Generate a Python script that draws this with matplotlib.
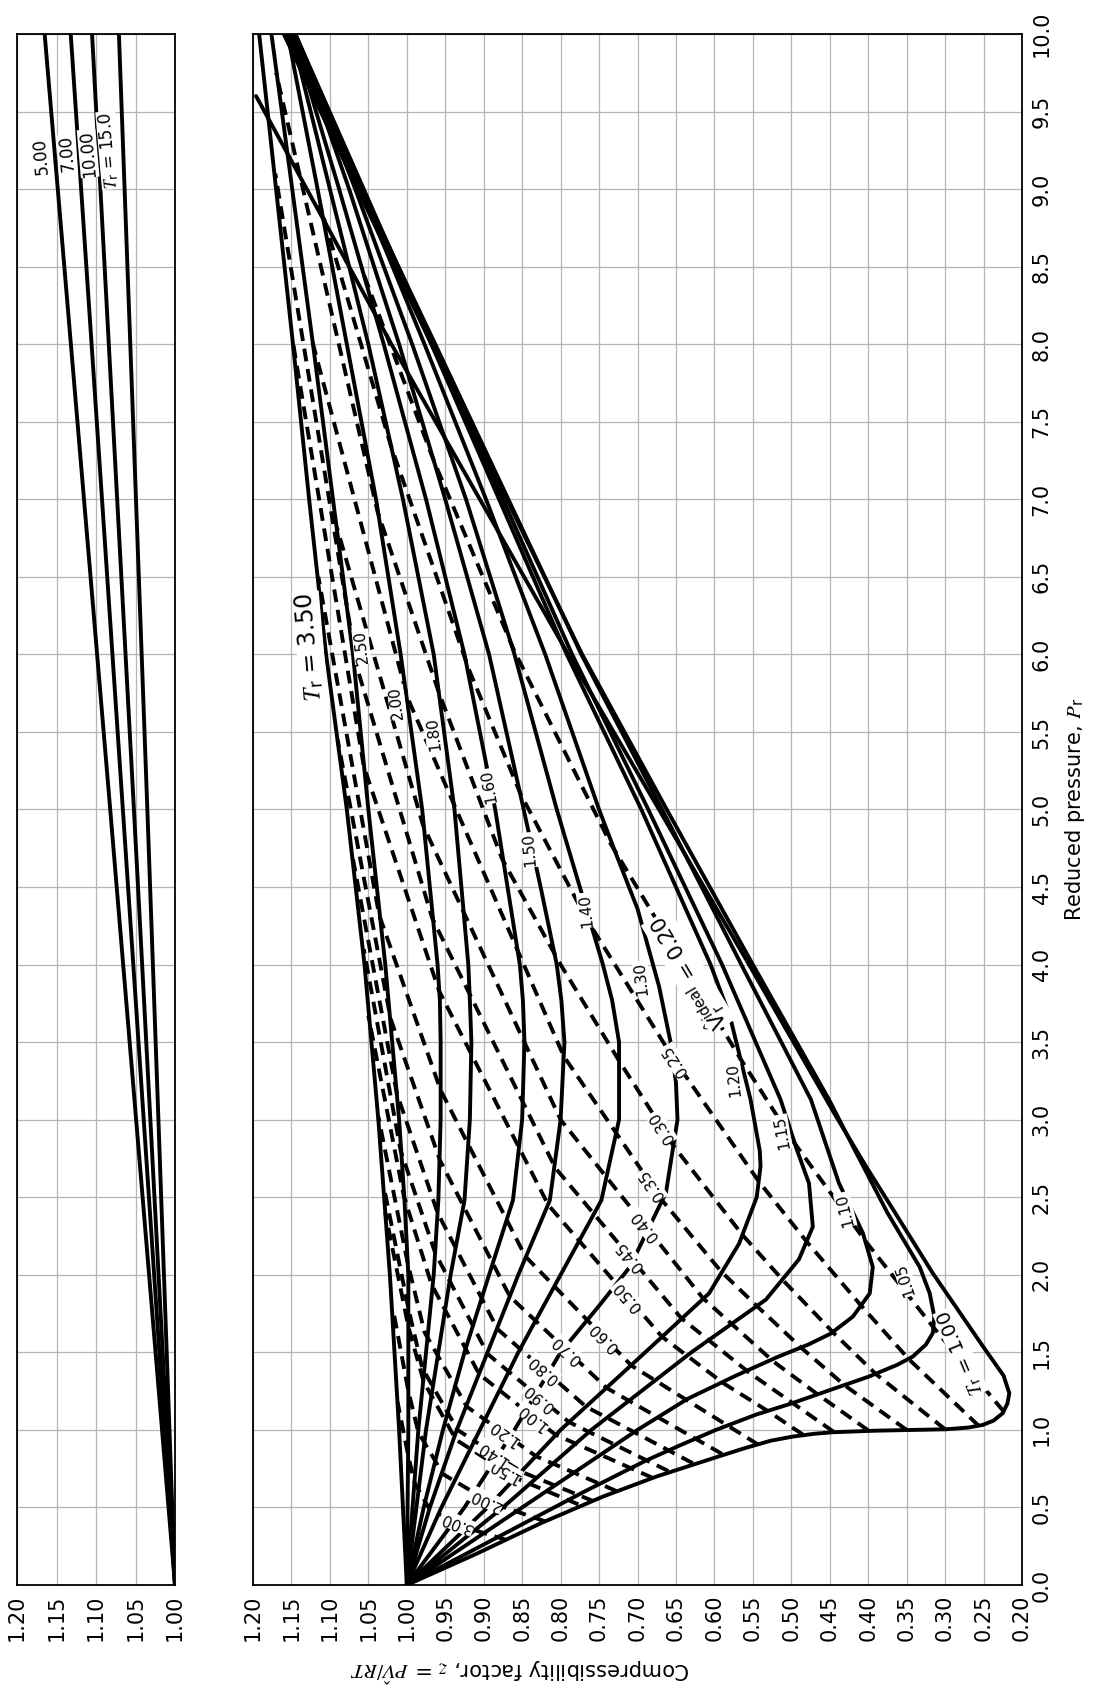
import numpy as np
import matplotlib
matplotlib.use("Agg")
import matplotlib.pyplot as plt

plt.rcParams['font.family'] = ['DejaVu Sans']
plt.rcParams['mathtext.fontset'] = 'stix'

# ---------------- data: solid curves, constant reduced temperature ----------------
tr100_pr = [0, 0.2, 0.4, 0.57, 0.7, 0.82, 0.88, 0.93, 0.957, 0.975, 0.985, 0.995, 1.0, 1.004, 1.015, 1.032, 1.06, 1.108, 1.17, 1.237, 1.35, 1.54, 1.75, 2.01, 2.4, 2.7, 3.04, 4.0, 5.0, 6.0, 7.0, 8.0, 9.0, 9.6]
tr100_z = [1.0, 0.91, 0.825, 0.745, 0.675, 0.60, 0.562, 0.527, 0.498, 0.47, 0.446, 0.39, 0.34, 0.299, 0.27, 0.251, 0.237, 0.225, 0.219, 0.2165, 0.224, 0.251, 0.28, 0.316, 0.365, 0.403, 0.444, 0.555, 0.672, 0.79, 0.905, 1.02, 1.13, 1.196]

tr105_pr = [0, 0.3, 0.6, 0.8, 0.9, 1.0, 1.1, 1.17, 1.26, 1.344, 1.42, 1.473, 1.55, 1.624, 1.73, 1.88, 2.05, 2.4, 2.81, 3.13, 4.0, 5.0, 6.0, 7.0, 8.0, 9.0, 10.0]
tr105_z = [1.0, 0.885, 0.77, 0.69, 0.645, 0.598, 0.545, 0.50, 0.448, 0.399, 0.362, 0.342, 0.325, 0.316, 0.314, 0.32, 0.333, 0.375, 0.418, 0.451, 0.55, 0.662, 0.772, 0.87, 0.968, 1.064, 1.16]

tr110_pr = [0, 0.5, 1.0, 1.2, 1.35, 1.47, 1.55, 1.62, 1.73, 1.88, 2.05, 2.27, 2.59, 3.13, 4.0, 5.0, 6.0, 7.0, 8.0, 9.0, 10.0]
tr110_z = [1.0, 0.85, 0.70, 0.635, 0.572, 0.518, 0.478, 0.449, 0.42, 0.398, 0.394, 0.407, 0.438, 0.4745, 0.565, 0.668, 0.773, 0.868, 0.963, 1.059, 1.155]

tr115_pr = [0, 0.5, 1.0, 1.5, 1.84, 2.1, 2.31, 2.59, 2.81, 3.13, 4.0, 5.0, 6.0, 7.0, 8.0, 9.0, 10.0]
tr115_z = [1.0, 0.875, 0.76, 0.63, 0.533, 0.49, 0.472, 0.477, 0.493, 0.514, 0.59, 0.686, 0.785, 0.875, 0.965, 1.057, 1.15]

tr120_pr = [0, 0.5, 1.0, 1.5, 1.88, 2.2, 2.5, 2.7, 2.8, 3.13, 3.67, 4.0, 5.0, 6.0, 7.0, 8.0, 9.0, 10.0]
tr120_z = [1.0, 0.895, 0.80, 0.69, 0.607, 0.568, 0.545, 0.54, 0.541, 0.553, 0.58, 0.605, 0.695, 0.792, 0.88, 0.968, 1.056, 1.145]

tr130_pr = [0, 0.5, 1.0, 1.5, 1.8, 2.05, 2.53, 3.0, 3.24, 3.5, 3.86, 4.36, 4.74, 5.0, 5.5, 6.0, 7.0, 8.0, 9.0, 10.0]
tr130_z = [1.0, 0.925, 0.86, 0.80, 0.75, 0.71, 0.663, 0.648, 0.650, 0.657, 0.672, 0.70, 0.73, 0.75, 0.785, 0.82, 0.897, 0.977, 1.06, 1.145]

tr140_pr = [0, 0.5, 1.0, 1.5, 2.0, 2.48, 3.0, 3.5, 3.77, 4.0, 4.5, 5.0, 6.0, 7.0, 8.0, 9.0, 10.0]
tr140_z = [1.0, 0.955, 0.905, 0.855, 0.80, 0.747, 0.724, 0.724, 0.733, 0.745, 0.775, 0.805, 0.86, 0.923, 0.993, 1.067, 1.145]

tr150_pr = [0, 0.5, 1.0, 1.5, 2.0, 2.48, 3.0, 3.5, 3.77, 4.0, 4.5, 5.0, 6.0, 7.0, 8.0, 9.0, 10.0]
tr150_z = [1.0, 0.97, 0.935, 0.895, 0.855, 0.814, 0.80, 0.795, 0.799, 0.805, 0.826, 0.848, 0.893, 0.95, 1.01, 1.075, 1.145]

tr160_pr = [0, 0.5, 1.0, 1.5, 2.0, 2.48, 3.0, 3.5, 3.77, 4.0, 5.0, 6.0, 7.0, 8.0, 9.0, 10.0]
tr160_z = [1.0, 0.978, 0.953, 0.925, 0.893, 0.862, 0.85, 0.847, 0.849, 0.853, 0.885, 0.925, 0.975, 1.03, 1.088, 1.148]

tr180_pr = [0, 1.0, 2.0, 2.48, 3.0, 3.5, 3.77, 4.0, 5.0, 6.0, 7.0, 8.0, 9.0, 10.0]
tr180_z = [1.0, 0.975, 0.943, 0.925, 0.918, 0.916, 0.918, 0.92, 0.938, 0.965, 1.005, 1.05, 1.10, 1.15]

tr200_pr = [0, 1.0, 2.0, 2.48, 3.0, 3.5, 3.77, 4.0, 5.0, 6.0, 7.0, 8.0, 9.0, 10.0]
tr200_z = [1.0, 0.985, 0.965, 0.959, 0.956, 0.956, 0.957, 0.96, 0.98, 1.008, 1.04, 1.078, 1.116, 1.155]

tr250_pr = [0, 1.0, 2.0, 2.48, 3.0, 4.0, 5.0, 6.0, 7.0, 8.0, 9.0, 10.0]
tr250_z = [1.0, 0.998, 0.998, 1.003, 1.01, 1.028, 1.05, 1.07, 1.096, 1.122, 1.149, 1.176]

tr350_pr = [0, 1.0, 2.0, 3.0, 4.0, 5.0, 6.0, 7.0, 8.0, 9.0, 10.0]
tr350_z = [1.0, 1.01, 1.022, 1.037, 1.055, 1.078, 1.105, 1.127, 1.148, 1.17, 1.192]

# high-temperature curves (left panel)
tr500_pr = [0, 5.0, 10.0]
tr500_z = [1.0, 1.082, 1.165]
tr700_pr = [0, 5.0, 10.0]
tr700_z = [1.0, 1.066, 1.132]
tr1000_pr = [0, 5.0, 10.0]
tr1000_z = [1.0, 1.052, 1.105]
tr1500_pr = [0, 5.0, 10.0]
tr1500_z = [1.0, 1.035, 1.071]

# ---------------- data: dashed curves, constant ideal reduced volume ----------------
vr300_pr = [0.29, 0.369, 0.485, 0.66, 0.83, 1.18]
vr300_z = [0.87, 0.922, 0.97, 0.99, 0.998, 1.012]
vr200_pr = [0.41, 0.53, 0.715, 0.985, 1.25, 1.78]
vr200_z = [0.82, 0.89, 0.953, 0.985, 0.998, 1.018]
vr150_pr = [0.52, 0.685, 0.936, 1.31, 1.665, 2.4]
vr150_z = [0.777, 0.856, 0.936, 0.978, 0.998, 1.028]
vr140_pr = [0.54, 0.73, 1.0, 1.4, 1.785, 2.57]
vr140_z = [0.757, 0.851, 0.934, 0.98, 0.998, 1.03]
vr120_pr = [0.605, 0.83, 1.15, 1.63, 2.08, 3.02]
vr120_z = [0.727, 0.832, 0.922, 0.977, 0.999, 1.037]
vr100_pr = [0.69, 0.97, 1.36, 1.94, 2.51, 3.67]
vr100_z = [0.68, 0.807, 0.906, 0.968, 1.004, 1.05]
vr090_pr = [0.735, 1.05, 1.49, 2.14, 2.8, 4.1]
vr090_z = [0.66, 0.789, 0.895, 0.963, 1.008, 1.056]
vr080_pr = [0.785, 1.15, 1.65, 2.4, 3.17, 4.68]
vr080_z = [0.628, 0.767, 0.882, 0.96, 1.013, 1.07]
vr070_pr = [0.845, 1.27, 1.86, 2.74, 3.65, 5.45]
vr070_z = [0.59, 0.74, 0.866, 0.957, 1.021, 1.09]
vr060_pr = [0.905, 1.415, 2.12, 3.19, 4.32, 6.5]
vr060_z = [0.543, 0.708, 0.846, 0.956, 1.036, 1.115]
vr050_pr = [0.97, 1.12, 1.3, 1.6, 2.45, 3.83, 5.28, 8.04]
vr050_z = [0.485, 0.53, 0.588, 0.668, 0.816, 0.958, 1.056, 1.149]
vr045_pr = [0.988, 1.37, 1.72, 2.69, 4.3, 5.92, 9.1]
vr045_z = [0.445, 0.555, 0.643, 0.807, 0.967, 1.065, 1.171]
vr040_pr = [0.997, 1.23, 1.44, 1.85, 3.0, 4.9, 6.82]
vr040_z = [0.40, 0.466, 0.523, 0.615, 0.80, 0.979, 1.091]
vr035_pr = [1.0, 1.285, 1.525, 1.8, 2.02, 2.48, 3.41, 5.72, 8.02]
vr035_z = [0.35, 0.43, 0.486, 0.545, 0.591, 0.668, 0.796, 0.999, 1.123]
vr030_pr = [1.004, 1.36, 1.62, 1.95, 2.26, 2.83, 3.38, 4.0, 4.68, 5.75, 6.92, 9.75]
vr030_z = [0.30, 0.39, 0.444, 0.508, 0.564, 0.653, 0.724, 0.80, 0.876, 0.958, 1.038, 1.17]
vr025_pr = [1.025, 1.455, 1.8, 2.22, 2.6, 3.4, 4.3, 5.1, 5.9, 7.35, 8.9]
vr025_z = [0.256, 0.347, 0.409, 0.481, 0.542, 0.654, 0.767, 0.852, 0.919, 1.021, 1.113]
vr020_pr = [1.12, 1.66, 2.22, 2.85, 3.4, 4.78, 6.02, 7.25, 8.45]
vr020_z = [0.224, 0.315, 0.404, 0.496, 0.567, 0.735, 0.86, 0.965, 1.056]

# tick values
z_ticks_main = [1.20, 1.15, 1.10, 1.05, 1.00, 0.95, 0.90, 0.85, 0.80, 0.75, 0.70, 0.65,
                0.60, 0.55, 0.50, 0.45, 0.40, 0.35, 0.30, 0.25, 0.20]
z_ticks_left = [1.20, 1.15, 1.10, 1.05, 1.00]
pr_ticks = [0.0, 0.5, 1.0, 1.5, 2.0, 2.5, 3.0, 3.5, 4.0, 4.5, 5.0, 5.5, 6.0, 6.5, 7.0,
            7.5, 8.0, 8.5, 9.0, 9.5, 10.0]

main_curves = [(tr100_pr, tr100_z), (tr105_pr, tr105_z), (tr110_pr, tr110_z),
               (tr115_pr, tr115_z), (tr120_pr, tr120_z), (tr130_pr, tr130_z),
               (tr140_pr, tr140_z), (tr150_pr, tr150_z), (tr160_pr, tr160_z),
               (tr180_pr, tr180_z), (tr200_pr, tr200_z), (tr250_pr, tr250_z),
               (tr350_pr, tr350_z)]
left_curves = [(tr500_pr, tr500_z), (tr700_pr, tr700_z), (tr1000_pr, tr1000_z),
               (tr1500_pr, tr1500_z)]
dashed_curves = [("3.00", vr300_pr, vr300_z), ("2.00", vr200_pr, vr200_z),
                 ("1.50", vr150_pr, vr150_z), ("1.40", vr140_pr, vr140_z),
                 ("1.20", vr120_pr, vr120_z), ("1.00", vr100_pr, vr100_z),
                 ("0.90", vr090_pr, vr090_z), ("0.80", vr080_pr, vr080_z),
                 ("0.70", vr070_pr, vr070_z), ("0.60", vr060_pr, vr060_z),
                 ("0.50", vr050_pr, vr050_z), ("0.45", vr045_pr, vr045_z),
                 ("0.40", vr040_pr, vr040_z), ("0.35", vr035_pr, vr035_z),
                 ("0.30", vr030_pr, vr030_z), ("0.25", vr025_pr, vr025_z),
                 ("0.20", vr020_pr, vr020_z)]

# ---------------- layout ----------------
W, H = 1096, 1697
fig = plt.figure(figsize=(W / 100, H / 100), dpi=100)
ax_bottom = 1 - 1585 / H
ax_height = (1585 - 34) / H
axL = fig.add_axes([17 / W, ax_bottom, 158 / W, ax_height])
axM = fig.add_axes([253 / W, ax_bottom, 769 / W, ax_height])

for ax in (axL, axM):
    ax.set_ylim(0, 10)
    ax.set_yticks(pr_ticks)
    ax.grid(True, color='#b5b5b5', lw=0.9)
    ax.set_axisbelow(True)
    ax.tick_params(length=0, labelsize=15, pad=7)
    for s in ax.spines.values():
        s.set_linewidth(1.3)

axM.set_xlim(1.2, 0.2)
axM.set_xticks(z_ticks_main)
axM.set_xticklabels([f"{v:.2f}" for v in z_ticks_main], rotation=90)
axL.set_xlim(1.2, 1.0)
axL.set_xticks(z_ticks_left)
axL.set_xticklabels([f"{v:.2f}" for v in z_ticks_left], rotation=90)
axL.set_yticklabels([])
axM.yaxis.tick_right()
axM.set_yticklabels([f"{v:.1f}" for v in pr_ticks], rotation=90, va='center')
axM.yaxis.set_label_position('right')
axM.set_ylabel("Reduced pressure, $P_\\mathregular{r}$", fontsize=15, rotation=90, labelpad=8)

fig.text((17 + 1022) / 2 / W, 1 - 1670 / H,
         "Compressibility factor, $z$ = $P\\hat{V}/RT$",
         rotation=180, ha='center', va='center', fontsize=15)

LW = 2.8
for pr, z in main_curves:
    axM.plot(z, pr, color='black', lw=LW, solid_capstyle='round',
             solid_joinstyle='round', zorder=3)
for pr, z in left_curves:
    axL.plot(z, pr, color='black', lw=LW, zorder=3)
for name, pr, z in dashed_curves:
    axM.plot(z, pr, color='black', lw=LW, ls=(0, (3.3, 2.0)), zorder=3)

box = dict(facecolor='white', edgecolor='none', pad=0.6)

# dashed-line labels: placed along each line at a given reduced pressure
vr_label_pr = {"3.00": 0.40, "2.00": 0.55, "1.50": 0.74, "1.40": 0.85, "1.20": 0.98,
               "1.00": 1.085, "0.90": 1.21, "0.80": 1.39, "0.70": 1.515, "0.60": 1.60,
               "0.50": 1.86, "0.45": 2.12, "0.40": 2.32, "0.35": 2.58, "0.30": 2.95,
               "0.25": 3.38, "0.20": 3.95}
fig.canvas.draw()
for name, pr, z in dashed_curves:
    p = vr_label_pr[name]
    zz = np.interp(p, pr, z)
    a = axM.transData.transform((np.interp(p - 0.1, pr, z), p - 0.1))
    b = axM.transData.transform((np.interp(p + 0.1, pr, z), p + 0.1))
    ang = np.degrees(np.arctan2(b[1] - a[1], b[0] - a[0]))
    if ang < 0:
        ang += 180
    if name == "0.20":
        txt = "$\\hat{\\mathregular{V}}_\\mathregular{r}^\\mathregular{ideal}$ = 0.20"
        fs = 15
    else:
        txt = name
        fs = 11
    axM.text(zz, p, txt, rotation=ang, rotation_mode='anchor', ha='center', va='center',
             fontsize=fs, bbox=box, zorder=6)

# temperature labels
tr_labels = [("$T_\\mathregular{r}$ = 1.00", 1.50, 0.28, 113, 14),
             ("1.05", 1.97, 0.352, 108, 11), ("1.10", 2.42, 0.43, 104, 11),
             ("1.15", 2.92, 0.5125, 100, 11), ("1.20", 3.26, 0.575, 96, 11),
             ("1.30", 3.91, 0.695, 96, 11), ("1.40", 4.35, 0.767, 96, 11),
             ("1.50", 4.74, 0.840, 95, 11), ("1.60", 5.15, 0.893, 100, 11),
             ("1.80", 5.49, 0.9655, 97, 11), ("2.00", 5.69, 1.013, 97, 11),
             ("2.50", 6.05, 1.059, 96, 11),
             ("$T_\\mathregular{r}$ = 3.50", 6.05, 1.126, 95, 17)]
for txt, p, zz, rot, fs in tr_labels:
    axM.text(zz, p, txt, rotation=rot, rotation_mode='anchor', ha='center', va='center',
             fontsize=fs, bbox=box, zorder=6)

left_labels = [("5.00", 9.21, 1.169), ("7.00", 9.23, 1.137), ("10.00", 9.23, 1.110),
               ("$T_\\mathregular{r}$ = 15.0", 9.25, 1.084)]
for txt, p, zz in left_labels:
    axL.text(zz, p, txt, rotation=95, rotation_mode='anchor', ha='center', va='center',
             fontsize=12, bbox=dict(facecolor='white', edgecolor='none', pad=0.3), zorder=6)

fig.savefig("out.png", dpi=100)
